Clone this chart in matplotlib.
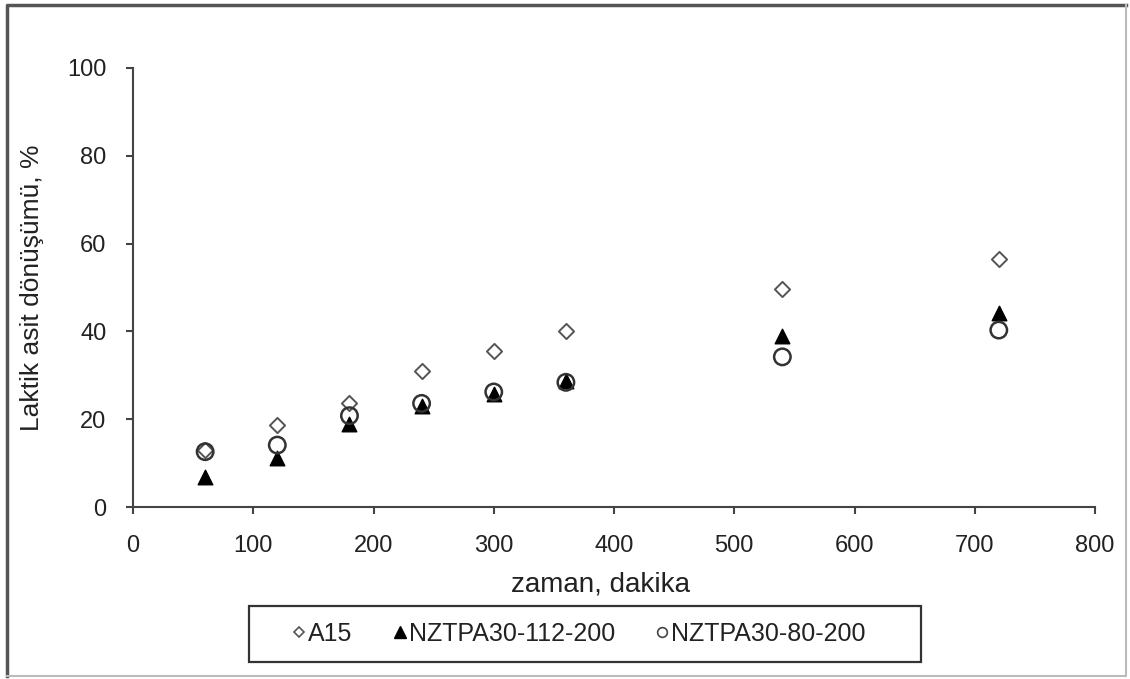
import matplotlib
matplotlib.use("Agg")
import matplotlib.pyplot as plt
from matplotlib.lines import Line2D
from matplotlib.patches import Rectangle

plt.rcParams['font.family'] = ['Liberation Sans', 'DejaVu Sans']

# zaman, dakika
zaman = [60, 120, 180, 240, 300, 360, 540, 720]

# Laktik asit dönüşümü, %
a15 = [12.9, 18.6, 23.8, 31.0, 35.6, 40.0, 49.6, 56.5]
nztpa_112 = [6.8, 11.2, 18.8, 23.0, 25.8, 28.6, 39.0, 44.2]
nztpa_80 = [12.6, 14.1, 20.8, 23.6, 26.2, 28.4, 34.2, 40.3]

labels = ['A15', 'NZTPA30-112-200', 'NZTPA30-80-200']

x_ticks = [0, 100, 200, 300, 400, 500, 600, 700, 800]
y_ticks = [0, 20, 40, 60, 80, 100]

W, H = 1130, 679
fig = plt.figure(figsize=(W / 100, H / 100), dpi=100)
ax = fig.add_axes([133 / W, 1 - 507 / H, (1095 - 133) / W, (507 - 68) / H])

ax.scatter(zaman, a15, marker='D', s=60, facecolors='white', edgecolors='#555555',
           linewidths=1.4, zorder=3)
ax.scatter(zaman, nztpa_112, marker='^', s=110, color='black', zorder=4)
ax.scatter(zaman, nztpa_80, marker='o', s=140, facecolors='none', edgecolors='#333333',
           linewidths=1.8, zorder=5)

ax.set_xlim(0, 800)
ax.set_ylim(0, 100)
ax.set_xticks(x_ticks)
ax.set_yticks(y_ticks)
ax.tick_params(labelsize=17, length=5, width=1.5, color='#444444', direction='out',
               labelcolor='#222222')
ax.tick_params(axis='x', pad=15)
ax.tick_params(axis='y', pad=14)
for side in ['top', 'right']:
    ax.spines[side].set_visible(False)
for side in ['left', 'bottom']:
    ax.spines[side].set_color('#444444')
    ax.spines[side].set_linewidth(1.5)

ax.set_xlabel('zaman, dakika', fontsize=20, color='#222222')
ax.set_ylabel('Laktik asit dönüşümü, %', fontsize=19, color='#222222')
ax.xaxis.set_label_coords(0.486, -0.148)
ax.yaxis.set_label_coords(-0.092, 0.5)

# small legend markers like the original
handles = [
    Line2D([], [], linestyle='none', marker='D', markersize=5.5, markerfacecolor='white',
           markeredgecolor='#555555', markeredgewidth=1.2),
    Line2D([], [], linestyle='none', marker='^', markersize=8, color='black'),
    Line2D([], [], linestyle='none', marker='o', markersize=7, markerfacecolor='none',
           markeredgecolor='#444444', markeredgewidth=1.2),
]
leg = fig.legend(handles, labels, loc='center', bbox_to_anchor=(579 / W, 1 - 634 / H),
                 ncol=3, fontsize=18, frameon=False, handletextpad=0.1,
                 handlelength=0.55, columnspacing=1.6, labelcolor='#222222')

# legend box
fig.add_artist(Rectangle((249 / W, 1 - 662 / H), (921 - 249) / W, (662 - 606) / H,
                         transform=fig.transFigure, fill=False,
                         edgecolor='#333333', linewidth=1.6))

# outer frame of the picture
fig.add_artist(Line2D([7 / W, 7 / W, 1126 / W], [3 / H, 674 / H, 674 / H],
                      transform=fig.transFigure, color='#555555', linewidth=2.5))
fig.add_artist(Line2D([7 / W, 1126 / W, 1126 / W], [3 / H, 3 / H, 674 / H],
                      transform=fig.transFigure, color='#bbbbbb', linewidth=1.5))

fig.savefig('out.png', dpi=100)
